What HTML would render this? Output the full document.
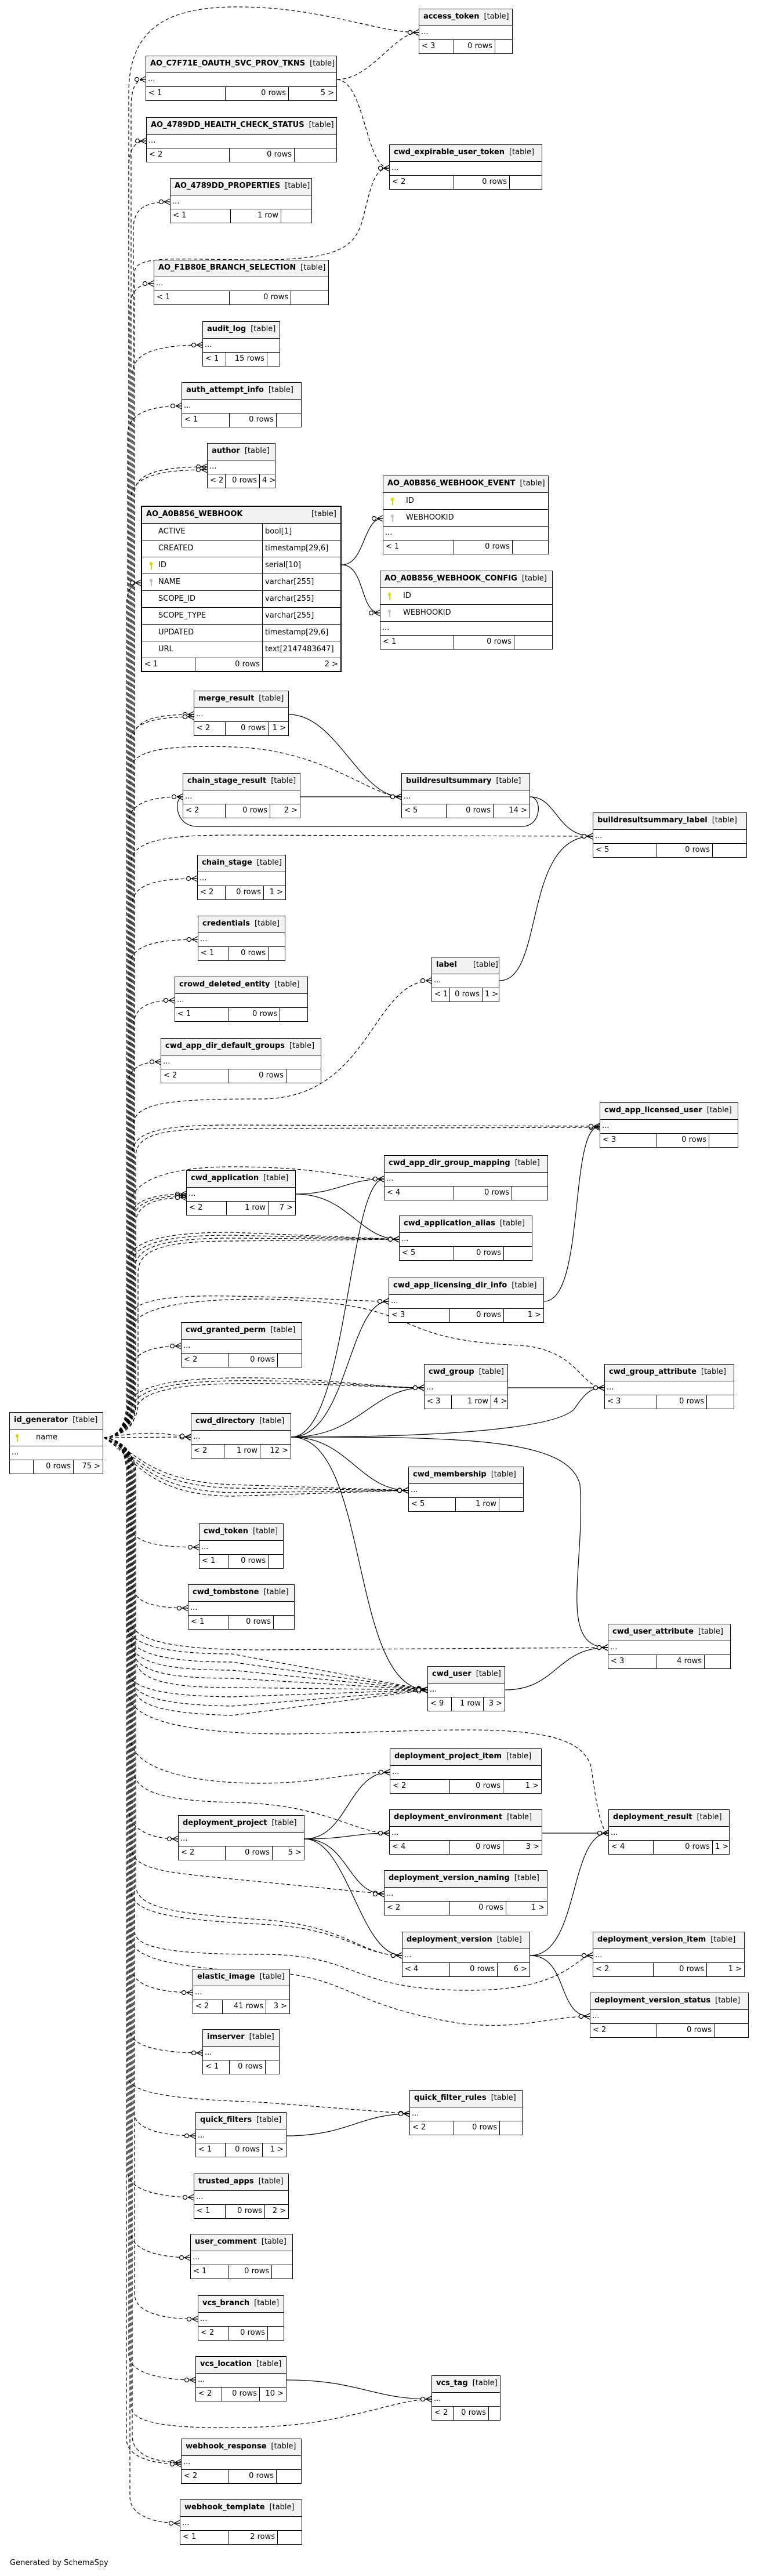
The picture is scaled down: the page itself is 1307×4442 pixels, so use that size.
<!DOCTYPE html>
<html><head><meta charset="utf-8">
<style>
*{box-sizing:border-box;margin:0;padding:0}
body{width:1307px;height:4442px;position:relative;background:#fff;font-family:"DejaVu Sans","Liberation Sans",sans-serif;font-size:13px;color:#000;overflow:hidden}
.t{position:absolute;border:1px solid #000;background:#fff;z-index:2}
.h{height:29px;border-bottom:1px solid #000;background:#f2f2f2;padding:5px 7px 0 7px;white-space:nowrap;overflow:hidden}
.h b{font-weight:bold}
.h i{font-style:normal;margin-left:8px}
.d{height:24px;border-bottom:1px solid #000;padding:3px 3px 0;line-height:16px}
.f{display:flex;height:23px;line-height:21px;white-space:nowrap}
.f span{border-right:1px solid #000;padding:0 4px;overflow:hidden}
.f span:last-child{border-right:none;flex:1;text-align:right}
.f span.r{text-align:right}
.row{height:29px;border-bottom:1px solid #000;position:relative;line-height:28px;white-space:nowrap}
.k{position:absolute;left:13px;top:8px;width:5px;height:13px}
.k:before{content:"";position:absolute;left:0;top:0;width:5px;height:6px;border-radius:50%;background:currentColor}
.k:after{content:"";position:absolute;left:2px;top:5px;width:2px;height:8px;background:currentColor}
.ky{color:#d8d800}.kg{color:#c0c0c0}
svg{position:absolute;left:0;top:0;z-index:1}
.foot{position:absolute;left:17px;top:4412px;font-size:13px}
</style></head><body>
<svg width="1307" height="4442" viewBox="0 0 1307 4442">
<defs>
<marker id="m" markerWidth="22" markerHeight="12" refX="21" refY="6" orient="auto" markerUnits="userSpaceOnUse">
<circle cx="6" cy="6" r="3.5" fill="#fff" stroke="#000" stroke-width="1.2"/>
<path d="M11,6 L21,1 M11,6 L21,6 M11,6 L21,11" stroke="#000" stroke-width="1.2" fill="none"/>
</marker>
</defs>
<g fill="none" stroke="#000" stroke-width="1.2" stroke-dasharray="6,4" marker-end="url(#m)">
<!-- top arc -->
<path d="M179,2479 C200,2479 222,2460 222,2420 L222,160 C222,40 300,10 420,12 C560,14 650,56 722,56"/>
<path d="M179,2479 C200,2479 226,2460 226,2420 L226,187 C226,147 236,137 251,137"/>
<path d="M179,2479 C200,2479 222,2460 222,2420 L222,290 C222,255 234,243 252,243"/>
<path d="M179,2479 C200,2479 230,2460 230,2420 L230,395 C230,360 250,348 293,348"/>
<path d="M179,2479 C200,2479 232,2460 232,2420 L232,470 C232,440 300,447 420,448 C580,450 610,430 625,380 C640,320 645,290 671,290"/>
<path d="M179,2479 C200,2479 224,2460 224,2420 L224,535 C224,500 240,489 265,489"/>
<path d="M179,2479 C200,2479 228,2460 228,2420 L228,645 C228,605 280,595 349,595"/>
<path d="M179,2479 C200,2479 220,2460 220,2420 L220,750 C220,712 260,700 313,700"/>
<path d="M179,2479 C200,2479 232,2460 232,2420 L232,850 C232,815 280,805 357,805"/>
<path d="M179,2479 C200,2479 226,2460 226,2420 L226,860 C226,820 280,810 357,810"/>
<path d="M179,2479 C200,2479 218,2460 218,2420 L218,1050 C218,1015 228,1005 243,1005"/>
<path d="M179,2479 C200,2479 230,2460 230,2420 L230,1275 C230,1240 270,1232 334,1232"/>
<path d="M179,2479 C200,2479 224,2460 224,2420 L224,1280 C224,1245 270,1236 334,1236"/>
<path d="M179,2479 C200,2479 224,2460 224,2420 L224,1330 C224,1290 300,1285 400,1288 C560,1292 640,1374 692,1374"/>
<path d="M179,2479 C200,2479 222,2460 222,2420 L222,1420 C222,1384 260,1374 315,1374"/>
<path d="M179,2479 C200,2479 226,2460 226,2420 L226,1490 C226,1450 280,1440 400,1440 L1022,1442"/>
<path d="M179,2479 C200,2479 228,2460 228,2420 L228,1560 C228,1525 270,1515 340,1515"/>
<path d="M179,2479 C200,2479 224,2460 224,2420 L224,1665 C224,1630 270,1620 341,1620"/>
<path d="M179,2479 C200,2479 230,2460 230,2420 L230,1770 C230,1735 260,1725 301,1725"/>
<path d="M179,2479 C200,2479 220,2460 220,2420 L220,1875 C220,1840 245,1831 277,1831"/>
<path d="M179,2479 C200,2479 230,2460 230,2420 L230,1940 C230,1900 300,1895 450,1895 C640,1895 640,1691 744,1691"/>
<path d="M179,2479 C200,2479 228,2460 228,2420 L228,1990 C228,1950 280,1940 400,1940 L1034,1942"/>
<path d="M179,2479 C200,2479 234,2460 234,2420 L234,1995 C234,1955 280,1946 400,1946 L1034,1944"/>
<path d="M179,2479 C200,2479 224,2460 224,2420 L224,2080 C224,2040 280,2012 400,2012 C560,2012 600,2033 662,2033"/>
<path d="M179,2479 C200,2479 226,2460 226,2420 L226,2100 C226,2068 270,2059 321,2059"/>
<path d="M179,2479 C200,2479 230,2460 230,2420 L230,2105 C230,2072 270,2062 321,2062"/>
<path d="M179,2479 C200,2479 234,2460 234,2420 L234,2110 C234,2076 270,2065 321,2065"/>
<path d="M179,2479 C200,2479 220,2460 220,2420 L220,2180 C220,2140 280,2125 400,2125 L688,2137"/>
<path d="M179,2479 C200,2479 226,2460 226,2420 L226,2185 C226,2145 280,2130 400,2130 L688,2137"/>
<path d="M179,2479 C200,2479 232,2460 232,2420 L232,2190 C232,2150 280,2135 400,2135 L688,2137"/>
<path d="M179,2479 C200,2479 238,2460 238,2420 L238,2195 C238,2155 280,2140 400,2140 L688,2137"/>
<path d="M179,2479 C200,2479 226,2460 226,2420 L226,2270 C226,2250 260,2232 400,2235 C560,2238 620,2244 670,2244"/>
<path d="M179,2479 C200,2479 230,2460 230,2420 L230,2290 C230,2260 300,2240 450,2240 C750,2245 650,2310 900,2320 C1000,2330 1000,2393 1042,2393"/>
<path d="M179,2479 C200,2479 228,2460 228,2420 L228,2360 C228,2330 270,2321 312,2321"/>
<path d="M179,2479 C200,2479 220,2460 220,2430 C220,2395 280,2378 400,2376 C550,2374 650,2393 731,2393"/>
<path d="M179,2479 C200,2479 226,2462 226,2435 C226,2400 280,2383 400,2381 C550,2379 650,2393 731,2393"/>
<path d="M179,2479 C200,2479 232,2464 232,2440 C232,2405 280,2388 400,2386 C550,2384 650,2393 731,2393"/>
<path d="M179,2479 C250,2479 280,2478 329,2478"/>
<path d="M179,2479 C250,2468 280,2470 329,2479"/>
<!-- below -->
<path d="M179,2479 C230,2495 250,2555 400,2560 L704,2570"/>
<path d="M179,2479 C230,2500 250,2562 400,2566 L704,2570"/>
<path d="M179,2479 C230,2505 250,2570 400,2574 L704,2570"/>
<path d="M179,2479 C230,2510 250,2578 400,2580 L704,2570"/>
<path d="M179,2479 C200,2479 226,2500 226,2540 L226,2630 C226,2660 270,2668 343,2668"/>
<path d="M179,2479 C200,2479 230,2500 230,2540 L230,2735 C230,2765 270,2773 324,2773"/>
<path d="M179,2479 C200,2479 224,2500 224,2540 L224,2790 C224,2830 300,2845 450,2845 L1048,2841"/>
<path d="M179,2479 C200,2479 218,2500 218,2540 L218,2800 C218,2840 300,2852 400,2852 L737,2914"/>
<path d="M179,2479 C200,2479 222,2500 222,2540 L222,2815 C222,2855 300,2866 400,2866 L737,2914"/>
<path d="M179,2479 C200,2479 226,2500 226,2540 L226,2830 C226,2870 300,2880 400,2880 L737,2914"/>
<path d="M179,2479 C200,2479 230,2500 230,2540 L230,2845 C230,2885 300,2894 400,2894 L737,2914"/>
<path d="M179,2479 C200,2479 234,2500 234,2540 L234,2860 C234,2900 300,2910 400,2910 L737,2914"/>
<path d="M179,2479 C200,2479 220,2500 220,2540 L220,2880 C220,2915 300,2925 400,2926 L737,2914"/>
<path d="M179,2479 C200,2479 228,2500 228,2540 L228,2895 C228,2930 300,2940 400,2942 L737,2914"/>
<path d="M179,2479 C200,2479 232,2500 232,2540 L232,2910 C232,2945 300,2955 400,2958 L737,2914"/>
<path d="M179,2479 C200,2479 222,2500 222,2540 L222,2920 C222,2960 300,2990 500,2990 C800,2985 1000,2960 1020,3050 C1030,3130 1040,3161 1049,3161"/>
<path d="M179,2479 C200,2479 226,2500 226,2540 L226,3000 C226,3040 300,3075 450,3075 C550,3075 600,3056 672,3056"/>
<path d="M179,2479 C200,2479 230,2500 230,2540 L230,3050 C230,3090 280,3105 400,3108 C560,3110 610,3161 671,3161"/>
<path d="M179,2479 C200,2479 222,2500 222,2540 L222,3120 C222,3155 260,3171 307,3171"/>
<path d="M179,2479 C200,2479 228,2500 228,2540 L228,3190 C228,3225 300,3230 400,3240 L662,3266"/>
<path d="M179,2479 C200,2479 234,2500 234,2540 L234,3250 C234,3290 300,3300 450,3310 C600,3320 620,3372 693,3372"/>
<path d="M179,2479 C200,2479 226,2500 226,2540 L226,3260 C226,3300 300,3310 450,3318 C600,3325 620,3372 693,3372"/>
<path d="M179,2479 C200,2479 232,2500 232,2540 L232,3330 C232,3360 300,3370 450,3370 C620,3370 600,3430 800,3432 C980,3434 990,3372 1022,3372"/>
<path d="M179,2479 C200,2479 224,2500 224,2540 L224,3340 C224,3380 320,3395 450,3400 C600,3405 600,3460 800,3490 C900,3500 950,3477 1017,3477"/>
<path d="M179,2479 C200,2479 228,2500 228,2540 L228,3395 C228,3425 280,3436 332,3436"/>
<path d="M179,2479 C200,2479 224,2500 224,2540 L224,3500 C224,3530 280,3540 349,3540"/>
<path d="M179,2479 C200,2479 220,2500 220,2540 L220,3580 C220,3610 300,3620 450,3625 L706,3645"/>
<path d="M179,2479 C200,2479 230,2500 230,2540 L230,3640 C230,3672 280,3683 337,3683"/>
<path d="M179,2479 C200,2479 220,2500 220,2540 L220,3745 C220,3778 280,3789 334,3789"/>
<path d="M179,2479 C200,2479 226,2500 226,2540 L226,3850 C226,3882 280,3893 328,3893"/>
<path d="M179,2479 C200,2479 232,2500 232,2540 L232,3955 C232,3988 280,3999 341,3999"/>
<path d="M179,2479 C200,2479 222,2500 222,2540 L222,4060 C222,4093 280,4104 337,4104"/>
<path d="M179,2479 C200,2479 226,2500 226,2540 L226,4150 C226,4180 300,4190 450,4185 C600,4180 680,4137 744,4137"/>
<path d="M179,2479 C200,2479 228,2500 228,2540 L228,4200 C228,4235 270,4246 312,4246"/>
<path d="M179,2479 C200,2479 218,2500 218,2540 L218,4205 C218,4240 270,4249 312,4249"/>
<path d="M179,2479 C200,2479 224,2500 224,2540 L224,4305 C224,4340 270,4351 310,4351"/>
<!-- table to table dashed -->
<path d="M581,137 C640,137 680,56 722,56"/>
<path d="M581,137 C630,140 630,290 671,290"/>
</g>
<g fill="none" stroke="#000" stroke-width="1.2" marker-end="url(#m)">
<path d="M589,974 C630,974 625,894 660,894"/>
<path d="M589,974 C630,974 620,1057 655,1057"/>
<path d="M498,1232 C580,1232 620,1374 692,1374"/>
<path d="M518,1374 L692,1374"/>
<path d="M914,1374 C935,1374 935,1425 900,1425 L340,1425 C300,1425 300,1374 315,1374"/>
<path d="M914,1374 C960,1374 960,1442 1022,1442"/>
<path d="M861,1691 C940,1691 900,1442 1022,1442"/>
<path d="M510,2059 C580,2059 600,2033 662,2033"/>
<path d="M510,2059 C600,2059 620,2137 688,2137"/>
<path d="M938,2244 C1010,2244 980,1942 1034,1942"/>
<path d="M502,2478 C600,2478 600,2033 662,2033"/>
<path d="M502,2478 C600,2478 600,2244 670,2244"/>
<path d="M502,2478 C620,2478 640,2393 731,2393"/>
<path d="M502,2478 C800,2478 960,2460 990,2430 C1010,2400 1020,2393 1042,2393"/>
<path d="M502,2478 C600,2478 620,2570 704,2570"/>
<path d="M502,2478 C640,2478 600,2914 737,2914"/>
<path d="M502,2478 C800,2478 980,2480 1000,2560 C1010,2700 960,2841 1048,2841"/>
<path d="M876,2393 L1042,2393"/>
<path d="M871,2914 C960,2914 960,2841 1048,2841"/>
<path d="M525,3171 C600,3171 600,3056 672,3056"/>
<path d="M525,3171 C600,3171 610,3161 671,3161"/>
<path d="M525,3171 C600,3171 600,3266 662,3266"/>
<path d="M525,3171 C600,3171 620,3372 693,3372"/>
<path d="M935,3161 L1049,3161"/>
<path d="M914,3372 C1000,3372 980,3161 1049,3161"/>
<path d="M914,3372 L1022,3372"/>
<path d="M914,3372 C980,3372 960,3477 1017,3477"/>
<path d="M494,3683 C600,3683 620,3645 706,3645"/>
<path d="M494,4104 C620,4104 640,4137 744,4137"/>
</g>
</svg>

<div class="t" style="left:722px;top:15px;width:162px"><div class="h"><b>access_token</b><i>[table]</i></div><div class="d">...</div><div class="f"><span style="width:60px">&lt; 3</span><span class="r" style="width:71px">0 rows</span><span></span></div></div>
<div class="t" style="left:251px;top:96px;width:330px"><div class="h"><b>AO_C7F71E_OAUTH_SVC_PROV_TKNS</b><i>[table]</i></div><div class="d">...</div><div class="f"><span style="width:137px">&lt; 1</span><span class="r" style="width:109px">0 rows</span><span>5 &gt;</span></div></div>
<div class="t" style="left:252px;top:202px;width:329px"><div class="h"><b>AO_4789DD_HEALTH_CHECK_STATUS</b><i>[table]</i></div><div class="d">...</div><div class="f"><span style="width:143px">&lt; 2</span><span class="r" style="width:112px">0 rows</span><span></span></div></div>
<div class="t" style="left:293px;top:307px;width:245px"><div class="h"><b>AO_4789DD_PROPERTIES</b><i>[table]</i></div><div class="d">...</div><div class="f"><span style="width:104px">&lt; 1</span><span class="r" style="width:87px">1 row</span><span></span></div></div>
<div class="t" style="left:671px;top:249px;width:264px"><div class="h"><b>cwd_expirable_user_token</b><i>[table]</i></div><div class="d">...</div><div class="f"><span style="width:111px">&lt; 2</span><span class="r" style="width:96px">0 rows</span><span></span></div></div>
<div class="t" style="left:265px;top:448px;width:302px"><div class="h"><b>AO_F1B80E_BRANCH_SELECTION</b><i>[table]</i></div><div class="d">...</div><div class="f"><span style="width:130px">&lt; 1</span><span class="r" style="width:106px">0 rows</span><span></span></div></div>
<div class="t" style="left:349px;top:554px;width:134px"><div class="h"><b>audit_log</b><i>[table]</i></div><div class="d">...</div><div class="f"><span style="width:40px">&lt; 1</span><span class="r" style="width:71px">15 rows</span><span></span></div></div>
<div class="t" style="left:313px;top:659px;width:207px"><div class="h"><b>auth_attempt_info</b><i>[table]</i></div><div class="d">...</div><div class="f"><span style="width:82px">&lt; 1</span><span class="r" style="width:81px">0 rows</span><span></span></div></div>
<div class="t" style="left:357px;top:764px;width:118px"><div class="h"><b>author</b><i>[table]</i></div><div class="d">...</div><div class="f"><span style="width:31px">&lt; 2</span><span class="r" style="width:59px">0 rows</span><span>4 &gt;</span></div></div>

<div class="t" style="left:243px;top:872px;width:346px;border:2.5px solid #000">
<div class="h" style="display:flex;justify-content:space-between"><b>AO_A0B856_WEBHOOK</b><span>[table]</span></div>
<div class="row"><span style="position:absolute;left:28px">ACTIVE</span><span style="position:absolute;left:207px;border-left:1px solid #000;padding-left:4px;height:28px">bool[1]</span></div>
<div class="row"><span style="position:absolute;left:28px">CREATED</span><span style="position:absolute;left:207px;border-left:1px solid #000;padding-left:4px;height:28px">timestamp[29,6]</span></div>
<div class="row"><span class="k ky"></span><span style="position:absolute;left:28px">ID</span><span style="position:absolute;left:207px;border-left:1px solid #000;padding-left:4px;height:28px">serial[10]</span></div>
<div class="row"><span class="k kg"></span><span style="position:absolute;left:28px">NAME</span><span style="position:absolute;left:207px;border-left:1px solid #000;padding-left:4px;height:28px">varchar[255]</span></div>
<div class="row"><span style="position:absolute;left:28px">SCOPE_ID</span><span style="position:absolute;left:207px;border-left:1px solid #000;padding-left:4px;height:28px">varchar[255]</span></div>
<div class="row"><span style="position:absolute;left:28px">SCOPE_TYPE</span><span style="position:absolute;left:207px;border-left:1px solid #000;padding-left:4px;height:28px">varchar[255]</span></div>
<div class="row"><span style="position:absolute;left:28px">UPDATED</span><span style="position:absolute;left:207px;border-left:1px solid #000;padding-left:4px;height:28px">timestamp[29,6]</span></div>
<div class="row"><span style="position:absolute;left:28px">URL</span><span style="position:absolute;left:207px;border-left:1px solid #000;padding-left:4px;height:28px">text[2147483647]</span></div>
<div class="f" style="height:22px"><span style="width:92px">&lt; 1</span><span class="r" style="width:116px">0 rows</span><span>2 &gt;</span></div>
</div>

<div class="t" style="left:660px;top:820px;width:286px"><div class="h"><b>AO_A0B856_WEBHOOK_EVENT</b><i>[table]</i></div>
<div class="row"><span class="k ky"></span><span style="position:absolute;left:39px">ID</span></div>
<div class="row"><span class="k kg"></span><span style="position:absolute;left:39px">WEBHOOKID</span></div>
<div class="d">...</div><div class="f"><span style="width:122px">&lt; 1</span><span class="r" style="width:101px">0 rows</span><span></span></div></div>
<div class="t" style="left:655px;top:984px;width:298px"><div class="h"><b>AO_A0B856_WEBHOOK_CONFIG</b><i>[table]</i></div>
<div class="row"><span class="k ky"></span><span style="position:absolute;left:39px">ID</span></div>
<div class="row"><span class="k kg"></span><span style="position:absolute;left:39px">WEBHOOKID</span></div>
<div class="d">...</div><div class="f"><span style="width:127px">&lt; 1</span><span class="r" style="width:104px">0 rows</span><span></span></div></div>

<div class="t" style="left:334px;top:1191px;width:164px"><div class="h"><b>merge_result</b><i>[table]</i></div><div class="d">...</div><div class="f"><span style="width:54px">&lt; 2</span><span class="r" style="width:74px">0 rows</span><span>1 &gt;</span></div></div>
<div class="t" style="left:315px;top:1333px;width:203px"><div class="h"><b>chain_stage_result</b><i>[table]</i></div><div class="d">...</div><div class="f"><span style="width:73px">&lt; 2</span><span class="r" style="width:77px">0 rows</span><span>2 &gt;</span></div></div>
<div class="t" style="left:692px;top:1333px;width:222px"><div class="h"><b>buildresultsummary</b><i>[table]</i></div><div class="d">...</div><div class="f"><span style="width:77px">&lt; 5</span><span class="r" style="width:81px">0 rows</span><span>14 &gt;</span></div></div>
<div class="t" style="left:1022px;top:1401px;width:266px"><div class="h"><b>buildresultsummary_label</b><i>[table]</i></div><div class="d">...</div><div class="f"><span style="width:110px">&lt; 5</span><span class="r" style="width:96px">0 rows</span><span></span></div></div>
<div class="t" style="left:340px;top:1474px;width:153px"><div class="h"><b>chain_stage</b><i>[table]</i></div><div class="d">...</div><div class="f"><span style="width:48px">&lt; 2</span><span class="r" style="width:66px">0 rows</span><span>1 &gt;</span></div></div>
<div class="t" style="left:341px;top:1579px;width:151px"><div class="h"><b>credentials</b><i>[table]</i></div><div class="d">...</div><div class="f"><span style="width:53px">&lt; 1</span><span class="r" style="width:68px">0 rows</span><span></span></div></div>
<div class="t" style="left:301px;top:1684px;width:230px"><div class="h"><b>crowd_deleted_entity</b><i>[table]</i></div><div class="d">...</div><div class="f"><span style="width:93px">&lt; 1</span><span class="r" style="width:88px">0 rows</span><span></span></div></div>
<div class="t" style="left:277px;top:1790px;width:277px"><div class="h"><b>cwd_app_dir_default_groups</b><i>[table]</i></div><div class="d">...</div><div class="f"><span style="width:117px">&lt; 2</span><span class="r" style="width:99px">0 rows</span><span></span></div></div>
<div class="t" style="left:744px;top:1650px;width:117px"><div class="h"><b>label</b><i style="margin-left:28px">[table]</i></div><div class="d">...</div><div class="f"><span style="width:31px">&lt; 1</span><span class="r" style="width:56px">0 rows</span><span>1 &gt;</span></div></div>
<div class="t" style="left:1034px;top:1901px;width:239px"><div class="h"><b>cwd_app_licensed_user</b><i>[table]</i></div><div class="d">...</div><div class="f"><span style="width:98px">&lt; 3</span><span class="r" style="width:90px">0 rows</span><span></span></div></div>
<div class="t" style="left:662px;top:1992px;width:283px"><div class="h"><b>cwd_app_dir_group_mapping</b><i>[table]</i></div><div class="d">...</div><div class="f"><span style="width:120px">&lt; 4</span><span class="r" style="width:100px">0 rows</span><span></span></div></div>
<div class="t" style="left:321px;top:2018px;width:189px"><div class="h"><b>cwd_application</b><i>[table]</i></div><div class="d">...</div><div class="f"><span style="width:69px">&lt; 2</span><span class="r" style="width:72px">1 row</span><span>7 &gt;</span></div></div>
<div class="t" style="left:688px;top:2096px;width:230px"><div class="h"><b>cwd_application_alias</b><i>[table]</i></div><div class="d">...</div><div class="f"><span style="width:94px">&lt; 5</span><span class="r" style="width:86px">0 rows</span><span></span></div></div>
<div class="t" style="left:670px;top:2203px;width:268px"><div class="h"><b>cwd_app_licensing_dir_info</b><i>[table]</i></div><div class="d">...</div><div class="f"><span style="width:105px">&lt; 3</span><span class="r" style="width:93px">0 rows</span><span>1 &gt;</span></div></div>
<div class="t" style="left:312px;top:2280px;width:209px"><div class="h"><b>cwd_granted_perm</b><i>[table]</i></div><div class="d">...</div><div class="f"><span style="width:82px">&lt; 2</span><span class="r" style="width:84px">0 rows</span><span></span></div></div>
<div class="t" style="left:731px;top:2352px;width:145px"><div class="h"><b>cwd_group</b><i>[table]</i></div><div class="d">...</div><div class="f"><span style="width:47px">&lt; 3</span><span class="r" style="width:68px">1 row</span><span>4 &gt;</span></div></div>
<div class="t" style="left:1042px;top:2352px;width:224px"><div class="h"><b>cwd_group_attribute</b><i>[table]</i></div><div class="d">...</div><div class="f"><span style="width:90px">&lt; 3</span><span class="r" style="width:86px">0 rows</span><span></span></div></div>

<div class="t" style="left:16px;top:2435px;width:162px"><div class="h"><b>id_generator</b><i>[table]</i></div>
<div class="row"><span class="k ky" style="left:10px"></span><span style="position:absolute;left:45px">name</span></div>
<div class="d">...</div><div class="f"><span style="width:41px"></span><span class="r" style="width:69px">0 rows</span><span>75 &gt;</span></div></div>

<div class="t" style="left:329px;top:2437px;width:173px"><div class="h"><b>cwd_directory</b><i>[table]</i></div><div class="d">...</div><div class="f"><span style="width:57px">&lt; 2</span><span class="r" style="width:62px">1 row</span><span>12 &gt;</span></div></div>
<div class="t" style="left:704px;top:2529px;width:199px"><div class="h"><b>cwd_membership</b><i>[table]</i></div><div class="d">...</div><div class="f"><span style="width:81px">&lt; 5</span><span class="r" style="width:75px">1 row</span><span></span></div></div>
<div class="t" style="left:343px;top:2627px;width:146px"><div class="h"><b>cwd_token</b><i>[table]</i></div><div class="d">...</div><div class="f"><span style="width:51px">&lt; 1</span><span class="r" style="width:68px">0 rows</span><span></span></div></div>
<div class="t" style="left:324px;top:2732px;width:184px"><div class="h"><b>cwd_tombstone</b><i>[table]</i></div><div class="d">...</div><div class="f"><span style="width:70px">&lt; 1</span><span class="r" style="width:77px">0 rows</span><span></span></div></div>
<div class="t" style="left:1048px;top:2800px;width:212px"><div class="h"><b>cwd_user_attribute</b><i>[table]</i></div><div class="d">...</div><div class="f"><span style="width:84px">&lt; 3</span><span class="r" style="width:82px">4 rows</span><span></span></div></div>
<div class="t" style="left:737px;top:2873px;width:134px"><div class="h"><b>cwd_user</b><i>[table]</i></div><div class="d">...</div><div class="f"><span style="width:41px">&lt; 9</span><span class="r" style="width:55px">1 row</span><span>3 &gt;</span></div></div>
<div class="t" style="left:672px;top:3015px;width:262px"><div class="h"><b>deployment_project_item</b><i>[table]</i></div><div class="d">...</div><div class="f"><span style="width:103px">&lt; 2</span><span class="r" style="width:92px">0 rows</span><span>1 &gt;</span></div></div>
<div class="t" style="left:307px;top:3130px;width:218px"><div class="h"><b>deployment_project</b><i>[table]</i></div><div class="d">...</div><div class="f"><span style="width:81px">&lt; 2</span><span class="r" style="width:81px">0 rows</span><span>5 &gt;</span></div></div>
<div class="t" style="left:671px;top:3120px;width:264px"><div class="h"><b>deployment_environment</b><i>[table]</i></div><div class="d">...</div><div class="f"><span style="width:104px">&lt; 4</span><span class="r" style="width:92px">0 rows</span><span>3 &gt;</span></div></div>
<div class="t" style="left:1049px;top:3120px;width:209px"><div class="h"><b>deployment_result</b><i>[table]</i></div><div class="d">...</div><div class="f"><span style="width:77px">&lt; 4</span><span class="r" style="width:102px">0 rows</span><span>1 &gt;</span></div></div>
<div class="t" style="left:662px;top:3225px;width:282px"><div class="h"><b>deployment_version_naming</b><i>[table]</i></div><div class="d">...</div><div class="f"><span style="width:113px">&lt; 2</span><span class="r" style="width:97px">0 rows</span><span>1 &gt;</span></div></div>
<div class="t" style="left:693px;top:3331px;width:221px"><div class="h"><b>deployment_version</b><i>[table]</i></div><div class="d">...</div><div class="f"><span style="width:82px">&lt; 4</span><span class="r" style="width:82px">0 rows</span><span>6 &gt;</span></div></div>
<div class="t" style="left:1022px;top:3331px;width:262px"><div class="h"><b>deployment_version_item</b><i>[table]</i></div><div class="d">...</div><div class="f"><span style="width:104px">&lt; 2</span><span class="r" style="width:92px">0 rows</span><span>1 &gt;</span></div></div>
<div class="t" style="left:1017px;top:3436px;width:274px"><div class="h"><b>deployment_version_status</b><i>[table]</i></div><div class="d">...</div><div class="f"><span style="width:115px">&lt; 2</span><span class="r" style="width:99px">0 rows</span><span></span></div></div>
<div class="t" style="left:332px;top:3395px;width:168px"><div class="h"><b>elastic_image</b><i>[table]</i></div><div class="d">...</div><div class="f"><span style="width:51px">&lt; 2</span><span class="r" style="width:75px">41 rows</span><span>3 &gt;</span></div></div>
<div class="t" style="left:349px;top:3499px;width:133px"><div class="h"><b>imserver</b><i>[table]</i></div><div class="d">...</div><div class="f"><span style="width:46px">&lt; 1</span><span class="r" style="width:62px">0 rows</span><span></span></div></div>
<div class="t" style="left:706px;top:3604px;width:195px"><div class="h"><b>quick_filter_rules</b><i>[table]</i></div><div class="d">...</div><div class="f"><span style="width:76px">&lt; 2</span><span class="r" style="width:79px">0 rows</span><span></span></div></div>
<div class="t" style="left:337px;top:3642px;width:157px"><div class="h"><b>quick_filters</b><i>[table]</i></div><div class="d">...</div><div class="f"><span style="width:51px">&lt; 1</span><span class="r" style="width:64px">0 rows</span><span>1 &gt;</span></div></div>
<div class="t" style="left:334px;top:3748px;width:164px"><div class="h"><b>trusted_apps</b><i>[table]</i></div><div class="d">...</div><div class="f"><span style="width:54px">&lt; 1</span><span class="r" style="width:68px">0 rows</span><span>2 &gt;</span></div></div>
<div class="t" style="left:328px;top:3852px;width:177px"><div class="h"><b>user_comment</b><i>[table]</i></div><div class="d">...</div><div class="f"><span style="width:66px">&lt; 1</span><span class="r" style="width:74px">0 rows</span><span></span></div></div>
<div class="t" style="left:341px;top:3958px;width:149px"><div class="h"><b>vcs_branch</b><i>[table]</i></div><div class="d">...</div><div class="f"><span style="width:53px">&lt; 2</span><span class="r" style="width:67px">0 rows</span><span></span></div></div>
<div class="t" style="left:337px;top:4063px;width:157px"><div class="h"><b>vcs_location</b><i>[table]</i></div><div class="d">...</div><div class="f"><span style="width:45px">&lt; 2</span><span class="r" style="width:65px">0 rows</span><span>10 &gt;</span></div></div>
<div class="t" style="left:744px;top:4096px;width:119px"><div class="h"><b>vcs_tag</b><i>[table]</i></div><div class="d">...</div><div class="f"><span style="width:37px">&lt; 2</span><span class="r" style="width:61px">0 rows</span><span></span></div></div>
<div class="t" style="left:312px;top:4205px;width:208px"><div class="h"><b>webhook_response</b><i>[table]</i></div><div class="d">...</div><div class="f"><span style="width:82px">&lt; 2</span><span class="r" style="width:82px">0 rows</span><span></span></div></div>
<div class="t" style="left:310px;top:4310px;width:211px"><div class="h"><b>webhook_template</b><i>[table]</i></div><div class="d">...</div><div class="f"><span style="width:84px">&lt; 1</span><span class="r" style="width:84px">2 rows</span><span></span></div></div>

<div class="foot">Generated by SchemaSpy</div>
</body></html>
